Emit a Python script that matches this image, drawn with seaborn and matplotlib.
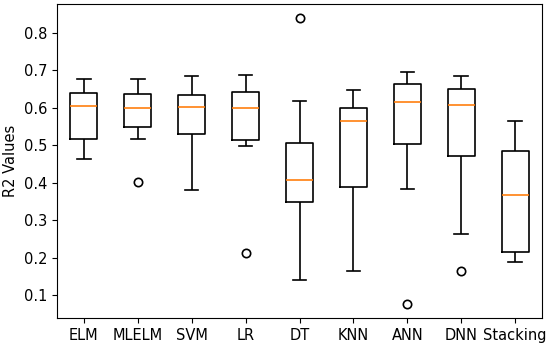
import pandas as pd
import numpy as np
import matplotlib
matplotlib.use('Agg')
import matplotlib.pyplot as plt
import seaborn as sns

# R2 values per model (9 runs each)
models = ['ELM', 'MLELM', 'SVM', 'LR', 'DT', 'KNN', 'ANN', 'DNN', 'Stacking']

elm      = [0.463, 0.490, 0.515, 0.560, 0.603, 0.620, 0.638, 0.660, 0.676]
mlelm    = [0.402, 0.517, 0.547, 0.575, 0.600, 0.620, 0.636, 0.655, 0.675]
svm      = [0.380, 0.450, 0.529, 0.570, 0.602, 0.620, 0.634, 0.660, 0.683]
lr       = [0.212, 0.497, 0.514, 0.560, 0.598, 0.620, 0.641, 0.665, 0.686]
dt       = [0.141, 0.250, 0.348, 0.380, 0.408, 0.460, 0.506, 0.618, 0.838]
knn      = [0.164, 0.300, 0.388, 0.480, 0.565, 0.580, 0.598, 0.620, 0.648]
ann      = [0.077, 0.382, 0.502, 0.560, 0.615, 0.640, 0.662, 0.680, 0.695]
dnn      = [0.165, 0.263, 0.470, 0.550, 0.607, 0.630, 0.649, 0.670, 0.683]
stacking = [0.188, 0.200, 0.215, 0.300, 0.366, 0.430, 0.483, 0.520, 0.564]

all_vals = [elm, mlelm, svm, lr, dt, knn, ann, dnn, stacking]

df = pd.DataFrame({
    'Model': np.repeat(models, [len(v) for v in all_vals]),
    'R2': np.concatenate(all_vals),
})

fig, ax = plt.subplots(figsize=(5.5, 3.47), dpi=100)
fig.subplots_adjust(left=0.1036, right=0.9855, top=0.9885, bottom=0.0836)

sns.boxplot(data=df, x='Model', y='R2', order=models, ax=ax,
            width=0.5, fill=False, color='black', linewidth=1.2,
            medianprops={'color': '#ff7f0e', 'linewidth': 1.2},
            flierprops={'marker': 'o', 'markerfacecolor': 'none',
                        'markeredgecolor': 'black', 'markersize': 6,
                        'markeredgewidth': 1.2})

ax.set_xlabel('')
ax.set_ylabel('R2 Values', fontsize=10.5)
ax.tick_params(labelsize=10.5)
ax.set_xlim(-0.5, len(models) - 0.5)

plt.savefig('out.png', dpi=100)
